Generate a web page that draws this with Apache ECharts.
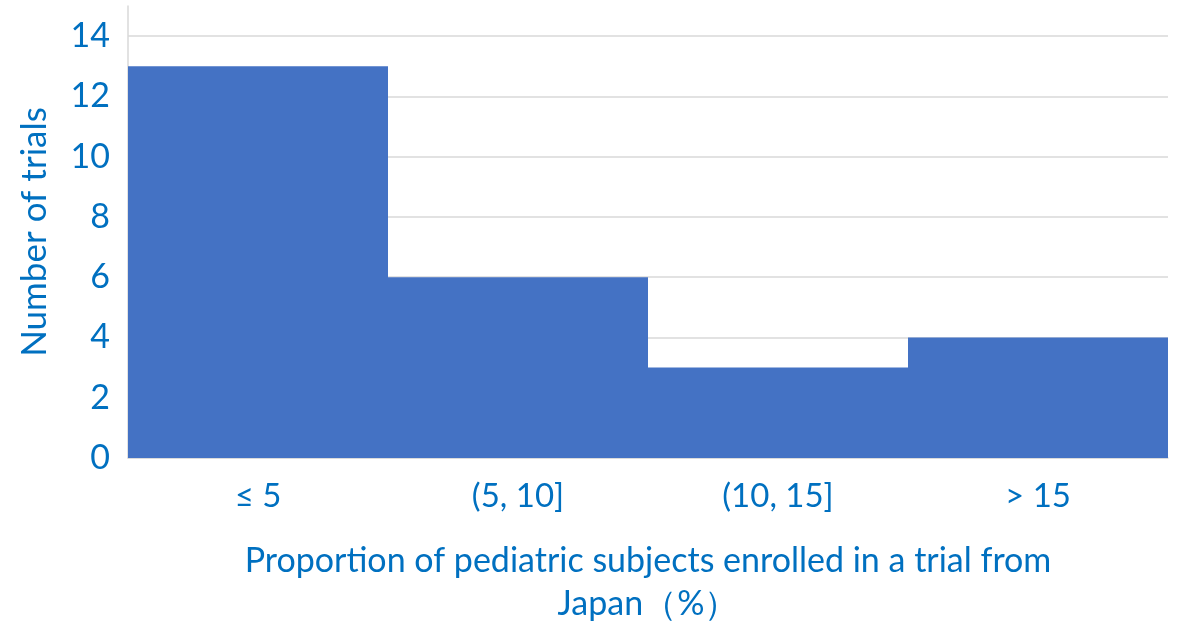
<!DOCTYPE html>
<html>
<head>
<meta charset="utf-8">
<script src="https://cdn.jsdelivr.net/npm/echarts@6/dist/echarts.min.js"></script>
<style>
  html, body { margin: 0; padding: 0; background: #fff; }
  #chart { width: 1181px; height: 626px; }
</style>
</head>
<body>
<div id="chart"></div>
<script>
const categories = ['≤ 5', '(5, 10]', '(10, 15]', '> 15']
const trialCounts = [13, 6, 3, 4]
const yAxisName = 'Number of trials'
const xAxisName = 'Proportion of pediatric subjects enrolled in a trial from\nJapan（%）'

const textColor = '#0070C0'
const barColor = '#4472C4'
const gridColor = '#d9d9d9'
const font = 'Lato, "Noto Sans", sans-serif'

const chart = echarts.init(document.getElementById('chart'))

chart.setOption({
  animation: false,
  backgroundColor: '#fff',
  grid: { left: 128, right: 13, top: 6, bottom: 168, containLabel: false, outerBoundsMode: 'none' },
  xAxis: {
    type: 'category',
    data: categories,
    axisTick: { show: false },
    axisLine: { lineStyle: { color: gridColor, width: 1.5 } },
    axisLabel: { color: textColor, fontSize: 33, fontFamily: font, margin: 22 },
    name: xAxisName,
    nameLocation: 'middle',
    nameGap: 82,
    nameTextStyle: { color: textColor, fontSize: 34, fontFamily: font, lineHeight: 43 },
  },
  yAxis: {
    type: 'value',
    min: 0,
    max: 15,
    interval: 2,
    axisLine: { show: true, lineStyle: { color: gridColor, width: 1.5 } },
    axisTick: { show: false },
    axisLabel: { color: textColor, fontSize: 34, fontFamily: font, margin: 18, showMaxLabel: false },
    splitLine: {
      show: true,
      lineStyle: {
        color: [gridColor, gridColor, gridColor, gridColor, gridColor, gridColor, gridColor, gridColor, 'rgba(0,0,0,0)'],
        width: 1.5,
      },
    },
    name: yAxisName,
    nameLocation: 'middle',
    nameGap: 76,
    nameTextStyle: { color: textColor, fontSize: 35, fontFamily: font },
  },
  series: [
    {
      type: 'bar',
      data: trialCounts,
      barCategoryGap: 0,
      itemStyle: { color: barColor },
    },
  ],
})
</script>
</body>
</html>
